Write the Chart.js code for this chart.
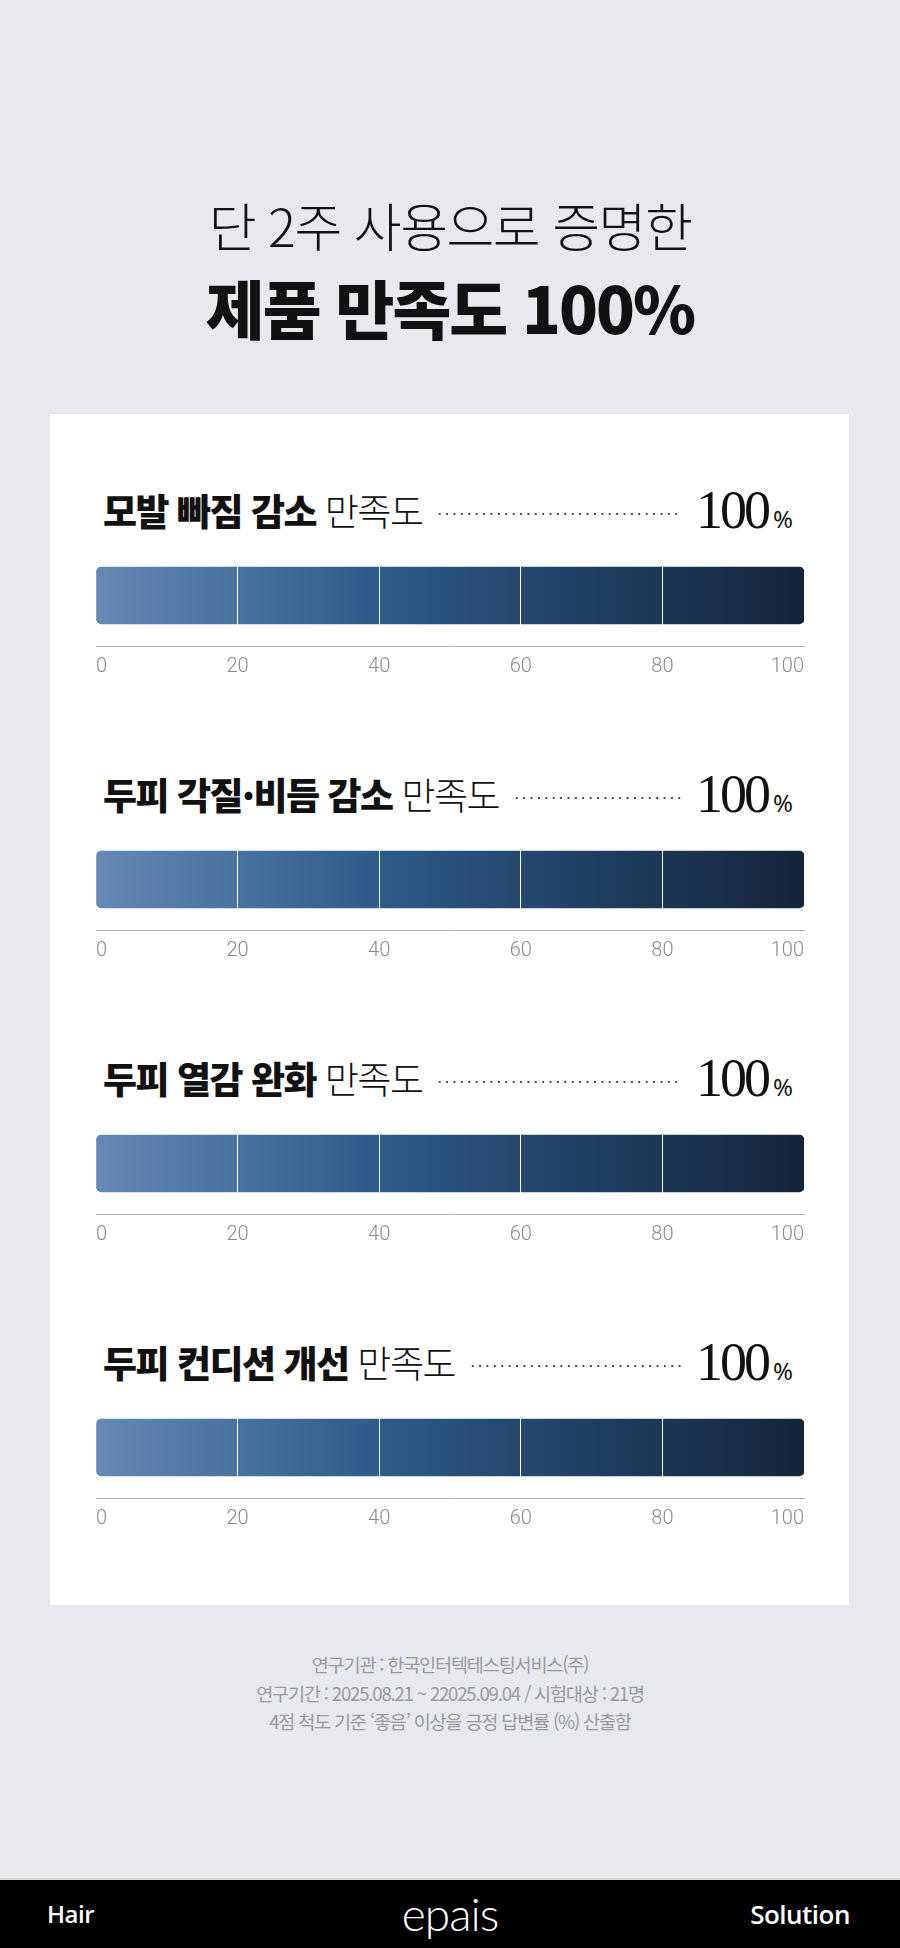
<!DOCTYPE html>
<html lang="ko">
<head>
<meta charset="utf-8">
<script src="https://cdn.jsdelivr.net/npm/chart.js@4.4.1/dist/chart.umd.min.js"></script>
<style>
  * { margin: 0; padding: 0; box-sizing: border-box; }
  body { width: 900px; height: 1948px; background: #e8e9ee; position: relative; overflow: hidden;
         font-family: "Noto Sans CJK KR", "Noto Sans", sans-serif; color: #111; }
  .head1 { position: absolute; top: 190px; width: 900px; text-align: center; font-size: 52px; font-weight: 300; letter-spacing: -1.5px; line-height: 70px; }
  .head2 { position: absolute; top: 266px; width: 900px; text-align: center; font-size: 64px; font-weight: 900; letter-spacing: -2px; line-height: 80px; }
  .card { position: absolute; left: 50px; top: 414px; width: 799px; height: 1191px; background: #fff; }
  .row { position: absolute; left: 103px; width: 690px; height: 56px; display: flex; align-items: center; }
  .lbl { font-size: 37px; letter-spacing: -1.5px; white-space: nowrap; }
  .lbl b { font-weight: 800; }
  .lbl span { font-weight: 300; }
  .dots { flex: 1; height: 6px; margin: 8px 14px 0 14px;
          background-image: radial-gradient(circle, #444 0.9px, transparent 1.3px);
          background-size: 7.4px 6px; background-repeat: repeat-x; }
  .val { font-family: "Liberation Serif", serif; font-size: 54px; font-weight: 400; letter-spacing: -3px; white-space: nowrap; }
  .val small { font-family: "Noto Sans", sans-serif; font-size: 24px; letter-spacing: 0; margin-left: 5px; }
  .chart { position: absolute; left: 87px; width: 726px; height: 143px; }
  .notes { position: absolute; top: 1650px; width: 900px; text-align: center; color: #9a9a9c; font-size: 18.6px; line-height: 28.6px; letter-spacing: -1.2px; }
  .foot { position: absolute; left: 0; top: 1878px; width: 900px; height: 70px; background: #000; color: #fff; border-top: 2px solid #d8d8dc; }
  .foot div { position: absolute; top: 0; line-height: 68px; }
  .f-l { left: 47px; font-family: "Open Sans", sans-serif; font-weight: 600; font-size: 24px; letter-spacing: -0.5px; }
  .f-c { left: 0; width: 900px; text-align: center; font-family: Lato, sans-serif; font-weight: 300; font-size: 46px; letter-spacing: -1px; }
  .f-r { right: 50px; font-family: "Open Sans", sans-serif; font-weight: 600; font-size: 26px; letter-spacing: -0.5px; }
</style>
</head>
<body>
<div class="head1">단 2주 사용으로 증명한</div>
<div class="head2">제품 만족도 100%</div>
<div class="card"></div>
<div id="rows"></div>
<div class="notes">연구기관 : 한국인터텍테스팅서비스(주)<br>연구기간 : 2025.08.21 ~ 22025.09.04 / 시험대상 : 21명<br>4점 척도 기준 ‘좋음’ 이상을 긍정 답변률 (%) 산출함</div>
<div class="foot"><div class="f-l">Hair</div><div class="f-c">epais</div><div class="f-r">Solution</div></div>

<script>
// 항목별 만족도 (%)
const categories = ['모발 빠짐 감소', '두피 각질·비듬 감소', '두피 열감 완화', '두피 컨디션 개선'];
const suffix = '만족도';
const satisfaction = [100, 100, 100, 100];
const tickValues = [0, 20, 40, 60, 80, 100];

// 섹션 위치
const rowTop0 = 482, rowStep = 284, chartTop0 = 545;

const host = document.getElementById('rows');

categories.forEach((cat, i) => {
  const row = document.createElement('div');
  row.className = 'row';
  row.style.top = (rowTop0 + rowStep * i) + 'px';
  row.innerHTML = `<div class="lbl"><b>${cat}</b><span> ${suffix}</span></div>
    <div class="dots"></div>
    <div class="val">${satisfaction[i]}<small>%</small></div>`;
  host.appendChild(row);

  const box = document.createElement('div');
  box.className = 'chart';
  box.style.top = (chartTop0 + rowStep * i) + 'px';
  const cv = document.createElement('canvas');
  box.appendChild(cv);
  host.appendChild(box);

  new Chart(cv, {
    type: 'bar',
    data: {
      labels: [cat],
      datasets: [{
        data: [satisfaction[i]],
        barThickness: 57,
        borderRadius: 5,
        borderSkipped: false,
        backgroundColor: (ctx) => {
          const a = ctx.chart.chartArea;
          if (!a) return '#2d5987';
          const g = ctx.chart.ctx.createLinearGradient(a.left, 0, a.right, 0);
          g.addColorStop(0, '#6489b5');
          g.addColorStop(0.4, '#2e5b8a');
          g.addColorStop(0.7, '#1f3f63');
          g.addColorStop(1, '#15253a');
          return g;
        },
      }],
    },
    options: {
      indexAxis: 'y',
      responsive: true,
      maintainAspectRatio: false,
      animation: false,
      layout: { padding: 0 },
      plugins: { legend: { display: false }, tooltip: { enabled: false } },
      scales: {
        y: { display: false },
        x: {
          position: 'bottom',
          min: 0, max: 100,
          afterBuildTicks: (s) => { s.ticks = tickValues.map(v => ({ value: v })); },
          grid: {
            z: 1,
            drawTicks: false,
            lineWidth: 1,
            color: (c) => (c.tick && (c.tick.value === 0 || c.tick.value === 100)) ? 'rgba(0,0,0,0)' : '#ffffff',
          },
          // 격자선(z:1) 뒤에 그려야 축선 위치가 맞음
          border: { display: true, color: '#b0b0b0', width: 1, z: 2 },
          ticks: {
            align: 'inner',
            padding: 9,
            color: '#8a8a8a',
            font: { family: 'Roboto', size: 20, weight: 300 },
          },
        },
      },
    },
  });
});
</script>
</body>
</html>
